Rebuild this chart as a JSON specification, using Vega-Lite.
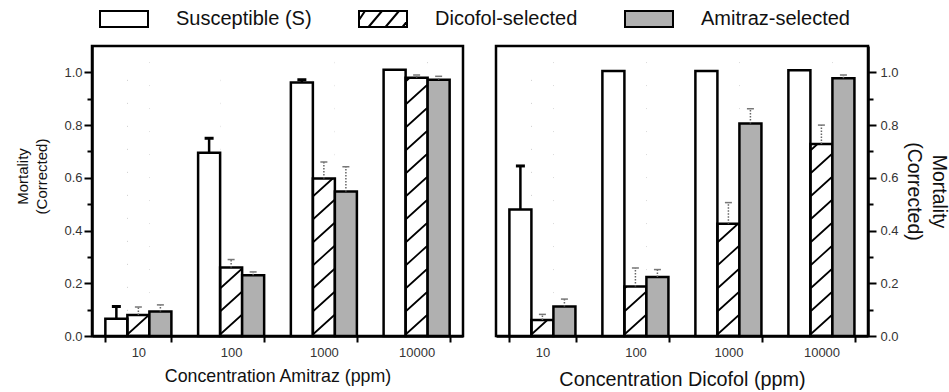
{
  "$schema": "https://vega.github.io/schema/vega-lite/v6.json",
  "padding": {"left": 14, "top": 8, "right": 0, "bottom": 0},
  "spacing": 29,
  "config": {
    "font": "Liberation Sans",
    "view": {"stroke": "black", "strokeWidth": 2.5},
    "axis": {
      "grid": false,
      "zindex": 1,
      "domainColor": "black",
      "domainWidth": 2.5,
      "tickColor": "black",
      "tickWidth": 2,
      "labelColor": "#333",
      "labelFontSize": 13,
      "titleColor": "#111",
      "titleFontWeight": "normal"
    }
  },
  "datasets": {
    "mortality": [
      {"panel": "Amitraz", "conc": "10", "group": "Susceptible (S)", "mortality": 0.065, "upper": 0.112},
      {"panel": "Amitraz", "conc": "10", "group": "Dicofol-selected", "mortality": 0.08, "upper": 0.11},
      {"panel": "Amitraz", "conc": "10", "group": "Amitraz-selected", "mortality": 0.093, "upper": 0.118},
      {"panel": "Amitraz", "conc": "100", "group": "Susceptible (S)", "mortality": 0.695, "upper": 0.75},
      {"panel": "Amitraz", "conc": "100", "group": "Dicofol-selected", "mortality": 0.26, "upper": 0.29},
      {"panel": "Amitraz", "conc": "100", "group": "Amitraz-selected", "mortality": 0.23, "upper": 0.243},
      {"panel": "Amitraz", "conc": "1000", "group": "Susceptible (S)", "mortality": 0.962, "upper": 0.972},
      {"panel": "Amitraz", "conc": "1000", "group": "Dicofol-selected", "mortality": 0.597, "upper": 0.66},
      {"panel": "Amitraz", "conc": "1000", "group": "Amitraz-selected", "mortality": 0.548, "upper": 0.642},
      {"panel": "Amitraz", "conc": "10000", "group": "Susceptible (S)", "mortality": 1.01, "upper": null},
      {"panel": "Amitraz", "conc": "10000", "group": "Dicofol-selected", "mortality": 0.98, "upper": 0.99},
      {"panel": "Amitraz", "conc": "10000", "group": "Amitraz-selected", "mortality": 0.972, "upper": 0.985},
      {"panel": "Dicofol", "conc": "10", "group": "Susceptible (S)", "mortality": 0.48, "upper": 0.645},
      {"panel": "Dicofol", "conc": "10", "group": "Dicofol-selected", "mortality": 0.061, "upper": 0.082},
      {"panel": "Dicofol", "conc": "10", "group": "Amitraz-selected", "mortality": 0.112, "upper": 0.14},
      {"panel": "Dicofol", "conc": "100", "group": "Susceptible (S)", "mortality": 1.005, "upper": null},
      {"panel": "Dicofol", "conc": "100", "group": "Dicofol-selected", "mortality": 0.188, "upper": 0.258},
      {"panel": "Dicofol", "conc": "100", "group": "Amitraz-selected", "mortality": 0.224, "upper": 0.252},
      {"panel": "Dicofol", "conc": "1000", "group": "Susceptible (S)", "mortality": 1.005, "upper": null},
      {"panel": "Dicofol", "conc": "1000", "group": "Dicofol-selected", "mortality": 0.426, "upper": 0.506},
      {"panel": "Dicofol", "conc": "1000", "group": "Amitraz-selected", "mortality": 0.806, "upper": 0.862},
      {"panel": "Dicofol", "conc": "10000", "group": "Susceptible (S)", "mortality": 1.008, "upper": null},
      {"panel": "Dicofol", "conc": "10000", "group": "Dicofol-selected", "mortality": 0.728, "upper": 0.8},
      {"panel": "Dicofol", "conc": "10000", "group": "Amitraz-selected", "mortality": 0.978, "upper": 0.99}
    ]
  },
  "resolve": {"scale": {"fill": "shared"}},
  "hconcat": [
    {
      "width": 371,
      "height": 290,
      "data": {"name": "mortality"},
      "transform": [{"filter": "datum.panel === 'Amitraz'"}],
      "encoding": {
        "x": {
          "field": "conc", "type": "ordinal", "sort": ["10", "100", "1000", "10000"],
          "scale": {"paddingInner": 0.288, "paddingOuter": 0.144},
          "axis": {"title": "Concentration Amitraz (ppm)", "labelAngle": 0, "tickBand": "extent", "tickSize": 6, "labelPadding": 4, "titlePadding": 8, "titleFontSize": 17.8}
        },
        "xOffset": {
          "field": "group", "type": "nominal", "sort": ["Susceptible (S)", "Dicofol-selected", "Amitraz-selected"],
          "scale": {"paddingInner": 0, "paddingOuter": 0}
        },
        "y": {
          "field": "mortality", "type": "quantitative",
          "scale": {"domain": [0, 1.1], "nice": false},
          "axis": {
            "orient": "left",
            "values": [0, 0.1, 0.2, 0.3, 0.4, 0.5, 0.6, 0.7, 0.8, 0.9, 1.0],
            "labelExpr": "round(datum.value * 10) % 2 === 0 ? format(datum.value, '.1f') : ''",
            "tickSize": {"condition": {"test": "round(datum.value * 10) % 2 === 0", "value": 8}, "value": 5},
            "labelPadding": 2,
            "title": ["Mortality", "(Corrected)"],
            "titleFontSize": 15,
            "titleLineHeight": 19,
            "titleY": 130,
            "titlePadding": 14
          }
        }
      },
      "layer": [
        {
          "transform": [{"filter": "datum.group === 'Dicofol-selected'"}],
          "mark": {
            "type": "point", "size": 4, "filled": false, "color": "black", "strokeWidth": 1.7, "opacity": 1,
            "shape": "M-10.5,-2L10.5,-21M-10.5,-25L10.5,-44M-10.5,-48L10.5,-67M-10.5,-71L10.5,-90M-10.5,-94L10.5,-113M-10.5,-117L10.5,-136M-10.5,-140L10.5,-159M-10.5,-163L10.5,-182M-10.5,-186L10.5,-205M-10.5,-209L10.5,-228M-10.5,-232L10.5,-251M-10.5,-255L10.5,-274"
          },
          "encoding": {"y": {"datum": 0, "type": "quantitative"}}
        },
        {
          "transform": [{"filter": "datum.group === 'Dicofol-selected'"}],
          "mark": {"type": "bar", "fill": "white", "strokeWidth": 0},
          "encoding": {"y2": {"datum": 1.08}}
        },
        {
          "mark": {"type": "bar", "stroke": "black", "strokeWidth": 2.5},
          "encoding": {
            "fill": {
              "field": "group", "type": "nominal",
              "scale": {"domain": ["Susceptible (S)", "Dicofol-selected", "Amitraz-selected"], "range": ["white", "transparent", "#b0b0b0"]},
              "legend": {
                "title": null,
                "orient": "none",
                "legendX": 21,
                "legendY": -38,
                "direction": "horizontal",
                "symbolType": "M-2.4,-0.8H2.4V0.8H-2.4Z",
                "symbolSize": 400,
                "symbolStrokeColor": "black",
                "symbolStrokeWidth": 2,
                "symbolOpacity": 1,
                "labelFontSize": 20,
                "labelColor": "#111",
                "labelOffset": 41,
                "columnPadding": 43,
                "encode": {
                  "symbols": {
                    "update": {
                      "shape": {"signal": "datum.value === 'Dicofol-selected' ? 'M-2.4,-0.8H2.4V0.8H-2.4ZM-2.4,0.1L-1.8,-0.8M-1.45,0.8L-0.1,-0.8M0.25,0.8L1.6,-0.8M1.95,0.8L2.4,0.25' : 'M-2.4,-0.8H2.4V0.8H-2.4Z'"}
                    }
                  }
                }
              }
            }
          }
        },
        {
          "transform": [{"filter": "datum.upper != null && datum.group === 'Susceptible (S)'"}],
          "mark": {"type": "rule", "color": "black", "strokeWidth": 2.5},
          "encoding": {"y2": {"field": "upper"}}
        },
        {
          "transform": [{"filter": "datum.upper != null && datum.group === 'Susceptible (S)'"}],
          "mark": {"type": "tick", "color": "black", "size": 9, "thickness": 3, "opacity": 1},
          "encoding": {"y": {"field": "upper", "type": "quantitative"}}
        },
        {
          "transform": [{"filter": "datum.upper != null && datum.group !== 'Susceptible (S)'"}],
          "mark": {"type": "rule", "color": "#666", "strokeWidth": 1.5, "strokeDash": [1.5, 1.5]},
          "encoding": {"y2": {"field": "upper"}}
        },
        {
          "transform": [{"filter": "datum.upper != null && datum.group !== 'Susceptible (S)'"}],
          "mark": {"type": "tick", "color": "#777", "size": 7, "thickness": 1.5, "opacity": 1, "strokeDash": [1.5, 1]},
          "encoding": {"y": {"field": "upper", "type": "quantitative"}}
        }
      ]
    },
    {
      "width": 372,
      "height": 290,
      "data": {"name": "mortality"},
      "transform": [{"filter": "datum.panel === 'Dicofol'"}],
      "encoding": {
        "x": {
          "field": "conc", "type": "ordinal", "sort": ["10", "100", "1000", "10000"],
          "scale": {"paddingInner": 0.288, "paddingOuter": 0.144},
          "axis": {"title": "Concentration Dicofol (ppm)", "labelAngle": 0, "tickBand": "extent", "tickSize": 6, "labelPadding": 4, "titlePadding": 10, "titleFontSize": 19.8}
        },
        "xOffset": {
          "field": "group", "type": "nominal", "sort": ["Susceptible (S)", "Dicofol-selected", "Amitraz-selected"],
          "scale": {"paddingInner": 0, "paddingOuter": 0}
        },
        "y": {
          "field": "mortality", "type": "quantitative",
          "scale": {"domain": [0, 1.1], "nice": false},
          "axis": {
            "orient": "right",
            "values": [0, 0.1, 0.2, 0.3, 0.4, 0.5, 0.6, 0.7, 0.8, 0.9, 1.0],
            "labelExpr": "round(datum.value * 10) % 2 === 0 ? format(datum.value, '.1f') : ''",
            "tickSize": {"condition": {"test": "round(datum.value * 10) % 2 === 0", "value": 8}, "value": 5},
            "labelPadding": 4,
            "title": ["Mortality", "(Corrected)"],
            "titleFontSize": 19.5,
            "titleLineHeight": 25,
            "titlePadding": 5
          }
        }
      },
      "layer": [
        {
          "transform": [{"filter": "datum.group === 'Dicofol-selected'"}],
          "mark": {
            "type": "point", "size": 4, "filled": false, "color": "black", "strokeWidth": 1.7, "opacity": 1,
            "shape": "M-10.5,-2L10.5,-21M-10.5,-25L10.5,-44M-10.5,-48L10.5,-67M-10.5,-71L10.5,-90M-10.5,-94L10.5,-113M-10.5,-117L10.5,-136M-10.5,-140L10.5,-159M-10.5,-163L10.5,-182M-10.5,-186L10.5,-205M-10.5,-209L10.5,-228M-10.5,-232L10.5,-251M-10.5,-255L10.5,-274"
          },
          "encoding": {"y": {"datum": 0, "type": "quantitative"}}
        },
        {
          "transform": [{"filter": "datum.group === 'Dicofol-selected'"}],
          "mark": {"type": "bar", "fill": "white", "strokeWidth": 0},
          "encoding": {"y2": {"datum": 1.08}}
        },
        {
          "mark": {"type": "bar", "stroke": "black", "strokeWidth": 2.5},
          "encoding": {
            "fill": {"field": "group", "type": "nominal"}
          }
        },
        {
          "transform": [{"filter": "datum.upper != null && datum.group === 'Susceptible (S)'"}],
          "mark": {"type": "rule", "color": "black", "strokeWidth": 2.5},
          "encoding": {"y2": {"field": "upper"}}
        },
        {
          "transform": [{"filter": "datum.upper != null && datum.group === 'Susceptible (S)'"}],
          "mark": {"type": "tick", "color": "black", "size": 9, "thickness": 3, "opacity": 1},
          "encoding": {"y": {"field": "upper", "type": "quantitative"}}
        },
        {
          "transform": [{"filter": "datum.upper != null && datum.group !== 'Susceptible (S)'"}],
          "mark": {"type": "rule", "color": "#666", "strokeWidth": 1.5, "strokeDash": [1.5, 1.5]},
          "encoding": {"y2": {"field": "upper"}}
        },
        {
          "transform": [{"filter": "datum.upper != null && datum.group !== 'Susceptible (S)'"}],
          "mark": {"type": "tick", "color": "#777", "size": 7, "thickness": 1.5, "opacity": 1, "strokeDash": [1.5, 1]},
          "encoding": {"y": {"field": "upper", "type": "quantitative"}}
        }
      ]
    }
  ]
}
